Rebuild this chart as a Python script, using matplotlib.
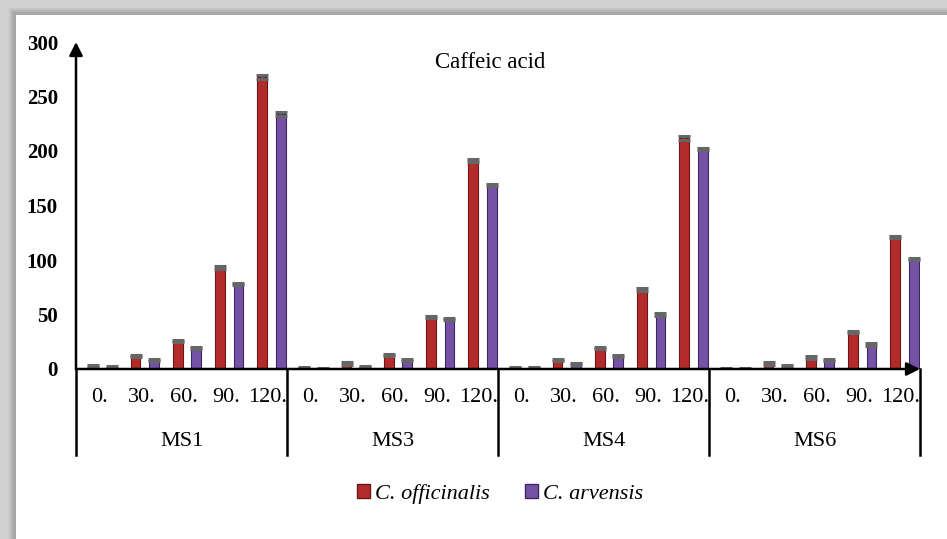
import numpy as np
import matplotlib
matplotlib.use("Agg")
import matplotlib.pyplot as plt
from matplotlib.patches import Rectangle
from matplotlib.lines import Line2D
import matplotlib.transforms as mtransforms

# Data
GROUPS = ["MS1", "MS3", "MS4", "MS6"]
TIMES = ["0.", "30.", "60.", "90.", "120."]
officinalis = [3, 12, 26, 93, 268,
               1, 5, 13, 48, 191,
               1.5, 8, 19.5, 73, 212,
               0.5, 5, 10.5, 34, 121]
arvensis = [2, 8, 19.5, 78, 234,
            0.5, 2, 8.5, 46, 169,
            1, 4.5, 12, 50, 202,
            0.5, 3, 8.5, 22.5, 101]
err_off = [1, 1, 1, 1.5, 2, 0.5, 1, 1, 1, 1.5, 0.5, 1, 1, 1, 1.5, 0.5, 1, 1, 1, 1]
err_arv = [1, 1, 1, 1, 1.5, 0.5, 0.5, 1, 1, 1, 0.5, 1, 1, 1, 1, 0.5, 1, 1, 1, 1]

RED = "#b42b2b"
RED_EDGE = "#6e1616"
PURPLE = "#7652a6"
PURPLE_EDGE = "#3c2860"

plt.rcParams["font.family"] = ["Liberation Serif", "DejaVu Serif"]

W, H = 947, 539
fig = plt.figure(figsize=(W / 100, H / 100), dpi=100)
fig.patch.set_facecolor("white")

# grey shadow frame on top/left
fig.patches.append(Rectangle((0, 0), 1, 1, transform=fig.transFigure,
                             facecolor="#d0d0d0", edgecolor="none", zorder=-3))
for k, c in enumerate(["#c4c4c4", "#b4b4b4", "#a8a8a8"]):
    off = (9 + 2 * k)
    fig.patches.append(Rectangle((off / W, 0), 1, 1 - (off - 1) / H, transform=fig.transFigure,
                                 facecolor=c, edgecolor="none", zorder=-2))
fig.patches.append(Rectangle((16 / W, 0), 1, 1 - 15 / H, transform=fig.transFigure,
                             facecolor="white", edgecolor="none", zorder=-1))

left, right, bottom, top = 76, 920, 369, 42
ax = fig.add_axes([left / W, (H - bottom) / H, (right - left) / W, (bottom - top) / H])
ax.set_facecolor("none")

n = len(officinalis)
x = np.arange(n) + 0.5
bw = 0.23
ax.bar(x - 0.09, officinalis, bw, color=RED, edgecolor=RED_EDGE, linewidth=0.8, zorder=2)
ax.bar(x + 0.35, arvensis, bw, color=PURPLE, edgecolor=PURPLE_EDGE, linewidth=0.8, zorder=2)
ax.errorbar(x - 0.09, officinalis, yerr=err_off, fmt="none", ecolor="#666666",
            elinewidth=1, capsize=4.2, capthick=2.2, zorder=3)
ax.errorbar(x + 0.35, arvensis, yerr=err_arv, fmt="none", ecolor="#666666",
            elinewidth=1, capsize=4.2, capthick=2.2, zorder=3)

ax.set_xlim(0, n)
ax.set_ylim(0, 300)
for s in ax.spines.values():
    s.set_visible(False)
ax.set_xticks([])
ax.set_yticks(np.arange(0, 301, 50))
ax.tick_params(axis="y", length=0, pad=13)
for lbl in ax.get_yticklabels():
    lbl.set_fontweight("bold")
    lbl.set_fontsize(15)

# axis arrows
ax.annotate("", xy=(0, 1.0), xytext=(0, 0), xycoords="axes fraction",
            arrowprops=dict(arrowstyle="-|>", color="black", lw=1.8,
                            mutation_scale=20, shrinkA=0, shrinkB=0))
ax.annotate("", xy=(1.0, 0), xytext=(0, 0), xycoords="axes fraction",
            arrowprops=dict(arrowstyle="-|>", color="black", lw=1.8,
                            mutation_scale=20, shrinkA=0, shrinkB=0))

# multi-level category axis
trans = mtransforms.blended_transform_factory(ax.transData, ax.transAxes)
ah = bottom - top
for g in range(len(GROUPS) + 1):
    ax.add_line(Line2D([g * 5, g * 5], [0, -(455 - bottom) / ah], transform=trans,
                       color="black", lw=1.8, clip_on=False))
for i in range(n):
    ax.text(x[i] + 0.05, -(397 - bottom) / ah, TIMES[i % 5], transform=trans,
            ha="center", va="center", fontsize=16)
for g, name in enumerate(GROUPS):
    ax.text(g * 5 + 2.5, -(441 - bottom) / ah, name, transform=trans,
            ha="center", va="center", fontsize=16)

fig.text(490 / W, 1 - 63 / H, "Caffeic acid", ha="center", va="center", fontsize=16.5)

handles = [Rectangle((0, 0), 1, 1, facecolor=RED, edgecolor=RED_EDGE),
           Rectangle((0, 0), 1, 1, facecolor=PURPLE, edgecolor=PURPLE_EDGE)]
fig.legend(handles, ["C. officinalis", "C. arvensis"], loc="center",
           bbox_to_anchor=(500 / W, 1 - 494 / H), ncol=2, frameon=False,
           prop=dict(family="Liberation Serif", style="italic", size=16),
           handlelength=0.6, handleheight=0.6, handletextpad=0.2, columnspacing=1.6)

fig.savefig("out.png", dpi=100)
